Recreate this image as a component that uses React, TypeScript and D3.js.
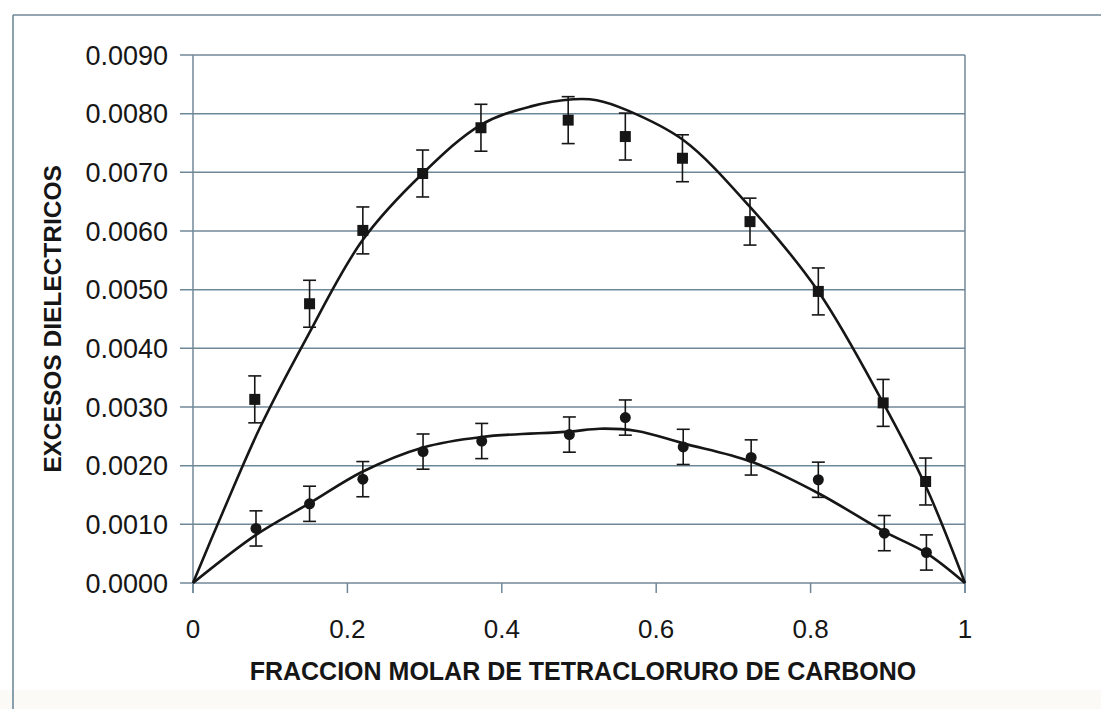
import React from "react";
import * as d3 from "d3";

// Measured points (x = molar fraction of CCl4)
const upperX = [0.080, 0.151, 0.220, 0.2975, 0.373, 0.486, 0.560, 0.634, 0.7215, 0.810, 0.894, 0.949];
const upperY = [0.00313, 0.00476, 0.00601, 0.00698, 0.00776, 0.00789, 0.00761, 0.00724, 0.00616, 0.00497, 0.00307, 0.00173];
const upperErr = [0.0004, 0.0004, 0.0004, 0.0004, 0.0004, 0.0004, 0.0004, 0.0004, 0.0004, 0.0004, 0.0004, 0.0004];

const lowerX = [0.0816, 0.151, 0.220, 0.298, 0.374, 0.4875, 0.560, 0.635, 0.723, 0.810, 0.8955, 0.950];
const lowerY = [0.00093, 0.00135, 0.00177, 0.00224, 0.00242, 0.00253, 0.00282, 0.00232, 0.00214, 0.00176, 0.00085, 0.00052];
const lowerErr = [0.0003, 0.0003, 0.0003, 0.0003, 0.0003, 0.0003, 0.0003, 0.0003, 0.0003, 0.0003, 0.0003, 0.0003];

// Fitted curves
const upperCurveX = [0, 0.039, 0.0868, 0.146, 0.22, 0.2975, 0.373, 0.4365, 0.4926, 0.523, 0.562, 0.635, 0.7215, 0.81, 0.894, 0.9495, 1];
const upperCurveY = [0, 0.00122, 0.00265, 0.00415, 0.00585, 0.00698, 0.00781, 0.00812, 0.008245, 0.00823, 0.00806, 0.00755, 0.00641, 0.00497, 0.00307, 0.00164, 0];

const lowerCurveX = [0, 0.0816, 0.151, 0.22, 0.298, 0.374, 0.4875, 0.527, 0.575, 0.635, 0.7228, 0.81, 0.8955, 0.95, 1];
const lowerCurveY = [0, 0.00082, 0.00136, 0.0019, 0.00231, 0.00249, 0.00258, 0.00263, 0.00259, 0.00238, 0.00207, 0.00153, 0.000875, 0.00051, 0];

const xTicks = [0, 0.2, 0.4, 0.6, 0.8, 1];
const xTickLabels = ["0", "0.2", "0.4", "0.6", "0.8", "1"];
const yTicks = [0, 0.001, 0.002, 0.003, 0.004, 0.005, 0.006, 0.007, 0.008, 0.009];
const yTickLabels = ["0.0000", "0.0010", "0.0020", "0.0030", "0.0040", "0.0050", "0.0060", "0.0070", "0.0080", "0.0090"];

const xTitle = "FRACCION MOLAR DE TETRACLORURO DE CARBONO";
const yTitle = "EXCESOS DIELECTRICOS";

export default function App() {
  const W = 1101, H = 709;
  const left = 193, right = 965, top = 55, bottom = 583;
  const x = d3.scaleLinear().domain([0, 1]).range([left, right]);
  const y = d3.scaleLinear().domain([0, 0.009]).range([bottom, top]);
  const grid = "#6f8898";
  const ink = "#161616";
  const font = "Arial, 'Liberation Sans', sans-serif";

  const line = d3
    .line<[number, number]>()
    .x((d) => x(d[0]))
    .y((d) => y(d[1]))
    .curve(d3.curveCatmullRom.alpha(0.5));

  const upperPath = line(upperCurveX.map((v, i) => [v, upperCurveY[i]] as [number, number])) || "";
  const lowerPath = line(lowerCurveX.map((v, i) => [v, lowerCurveY[i]] as [number, number])) || "";

  const cap = 6.5;

  const errBars = (xs: number[], ys: number[], es: number[], key: string) =>
    xs.map((v, i) => {
      const cx = x(v);
      const y1 = y(ys[i] + es[i]);
      const y2 = y(ys[i] - es[i]);
      return (
        <g key={key + i} stroke={ink} strokeWidth={1.6}>
          <line x1={cx} x2={cx} y1={y1} y2={y2} />
          <line x1={cx - cap} x2={cx + cap} y1={y1} y2={y1} />
          <line x1={cx - cap} x2={cx + cap} y1={y2} y2={y2} />
        </g>
      );
    });

  return (
    <svg
      width={W}
      height={H}
      style={{ position: "absolute", left: 0, top: 0, background: "#ffffff" }}
    >
      <rect x={0} y={0} width={W} height={H} fill="#ffffff" />
      <rect x={0} y={690} width={W} height={19} fill="#fbfaf7" />
      {/* outer frame */}
      <line x1={13} x2={W} y1={15} y2={15} stroke={grid} strokeWidth={1.6} />
      <line x1={13} x2={13} y1={15} y2={H} stroke={grid} strokeWidth={1.6} />

      {/* gridlines */}
      {yTicks.map((t) => (
        <line key={"g" + t} x1={left - 13} x2={right} y1={y(t)} y2={y(t)} stroke={grid} strokeWidth={1.5} />
      ))}
      {/* plot border verticals */}
      <line x1={left} x2={left} y1={top} y2={bottom + 10} stroke={grid} strokeWidth={1.5} />
      <line x1={right} x2={right} y1={top} y2={bottom + 10} stroke={grid} strokeWidth={1.5} />
      {xTicks.map((t) => (
        <line key={"xt" + t} x1={x(t)} x2={x(t)} y1={bottom} y2={bottom + 10} stroke={grid} strokeWidth={1.5} />
      ))}

      {/* y tick labels */}
      {yTicks.map((t, i) => (
        <text
          key={"yl" + t}
          x={168}
          y={y(t) + 9.5}
          textAnchor="end"
          fontFamily={font}
          fontSize={27}
          fill={ink}
        >
          {yTickLabels[i]}
        </text>
      ))}
      {/* x tick labels */}
      {xTicks.map((t, i) => (
        <text
          key={"xl" + t}
          x={x(t)}
          y={638}
          textAnchor="middle"
          fontFamily={font}
          fontSize={26}
          fill={ink}
        >
          {xTickLabels[i]}
        </text>
      ))}

      {/* axis titles */}
      <text
        x={(left + right) / 2 + 4}
        y={680}
        textAnchor="middle"
        fontFamily={font}
        fontWeight="bold"
        fontSize={25}
        fill={ink}
      >
        {xTitle}
      </text>
      <text
        transform={`translate(61, ${(top + bottom) / 2}) rotate(-90)`}
        textAnchor="middle"
        fontFamily={font}
        fontWeight="bold"
        fontSize={24.5}
        fill={ink}
      >
        {yTitle}
      </text>

      {/* curves */}
      <path d={upperPath} fill="none" stroke={ink} strokeWidth={2.6} />
      <path d={lowerPath} fill="none" stroke={ink} strokeWidth={2.6} />

      {/* error bars */}
      {errBars(upperX, upperY, upperErr, "ue")}
      {errBars(lowerX, lowerY, lowerErr, "le")}

      {/* markers */}
      {upperX.map((v, i) => (
        <rect key={"us" + i} x={x(v) - 5.5} y={y(upperY[i]) - 5.5} width={11} height={11} fill={ink} />
      ))}
      {lowerX.map((v, i) => (
        <circle key={"lc" + i} cx={x(v)} cy={y(lowerY[i])} r={5.5} fill={ink} />
      ))}
    </svg>
  );
}
